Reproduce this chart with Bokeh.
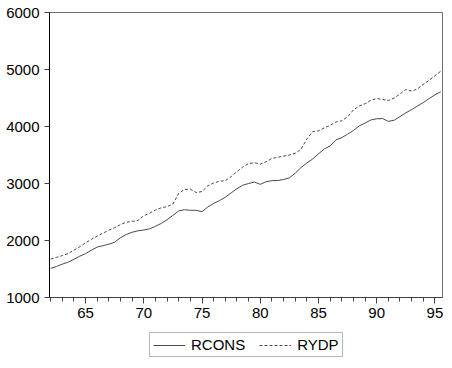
from bokeh.plotting import figure
from bokeh.layouts import column
from bokeh.models import Range1d, SingleIntervalTicker, FixedTicker, Legend, LegendItem
from bokeh.embed import file_html
from bokeh.resources import INLINE

# semi-annual observation dates (year of century)
years = [62.0 + 0.5 * i for i in range(68)]

rcons = [1510, 1545, 1585, 1620, 1670, 1725, 1770, 1830, 1885, 1910,
         1935, 1970, 2050, 2105, 2145, 2170, 2185, 2205, 2250, 2300,
         2365, 2440, 2520, 2540, 2530, 2530, 2505, 2590, 2650, 2700,
         2760, 2835, 2910, 2970, 3000, 3025, 2985, 3030, 3050, 3052,
         3070, 3100, 3180, 3280, 3360, 3430, 3520, 3605, 3660, 3765,
         3805, 3865, 3930, 4010, 4060, 4115, 4135, 4140, 4090, 4110,
         4175, 4240, 4295, 4360, 4420, 4490, 4555, 4610]

rydp = [1675, 1705, 1735, 1770, 1830, 1890, 1960, 2020, 2080, 2130,
        2180, 2225, 2280, 2320, 2335, 2350, 2435, 2480, 2535, 2575,
        2595, 2640, 2830, 2895, 2900, 2840, 2860, 2960, 3010, 3040,
        3050, 3120, 3210, 3290, 3350, 3365, 3340, 3380, 3440, 3460,
        3480, 3500, 3530, 3600, 3780, 3910, 3925, 3975, 4020, 4080,
        4100, 4170, 4290, 4360, 4400, 4460, 4490, 4475, 4455, 4500,
        4570, 4650, 4620, 4660, 4740, 4810, 4890, 4970]

y_ticks = [1000, 2000, 3000, 4000, 5000, 6000]
series_names = ["RCONS", "RYDP"]

FONT = "Liberation Sans"
LINE_COLOR = "#4a4a4a"

p = figure(width=452, height=326, output_backend="svg", toolbar_location=None,
           x_range=Range1d(61.9, 95.65), y_range=Range1d(1000, 6000),
           min_border_left=49, min_border_right=10, min_border_top=12,
           min_border_bottom=29)
p.background_fill_color = "white"
p.border_fill_color = "white"
p.outline_line_color = "#707070"
p.outline_line_width = 1
p.xgrid.visible = False
p.ygrid.visible = False

p.line(years, rcons, line_color=LINE_COLOR, line_width=1)
p.line(years, rydp, line_color=LINE_COLOR, line_width=1, line_dash="3 2")

xa = p.xaxis[0]
xa.ticker = SingleIntervalTicker(interval=5, num_minor_ticks=5)
xa.major_tick_out = 6
xa.major_tick_in = 0
xa.minor_tick_out = 4
xa.minor_tick_in = 0
xa.axis_line_color = "#404040"
xa.major_tick_line_color = "#404040"
xa.minor_tick_line_color = "#404040"
xa.major_label_text_font = FONT
xa.major_label_text_font_size = "15px"
xa.major_label_text_color = "black"
xa.major_label_standoff = 4

ya = p.yaxis[0]
ya.ticker = FixedTicker(ticks=y_ticks)
ya.major_tick_out = 5
ya.major_tick_in = 0
ya.minor_tick_out = 0
ya.minor_tick_in = 0
ya.axis_line_color = "black"
ya.major_tick_line_color = "#404040"
ya.major_label_text_font = FONT
ya.major_label_text_font_size = "15px"
ya.major_label_text_color = "black"
ya.major_label_standoff = 5

# legend strip below the chart (frames are aligned with the chart above)
p2 = figure(width=452, height=42, output_backend="svg", toolbar_location=None,
            x_range=Range1d(0, 1), y_range=Range1d(0, 1),
            x_axis_type=None, y_axis_type=None,
            min_border_left=0, min_border_right=0, min_border_top=0,
            min_border_bottom=0)
p2.outline_line_color = None
p2.xgrid.visible = False
p2.ygrid.visible = False
# placeholder renderers lying outside the visible range, only for legend glyphs
l1 = p2.line(x=[5, 6], y=[5, 6], line_color=LINE_COLOR, line_width=1)
l2 = p2.line(x=[5, 6], y=[5, 6], line_color=LINE_COLOR, line_width=1, line_dash="3 2")

legend = Legend(items=[LegendItem(label=series_names[0], renderers=[l1]),
                       LegendItem(label=series_names[1], renderers=[l2])],
                orientation="horizontal", location=(100, 11))
legend.label_text_font = FONT
legend.label_text_font_size = "15px"
legend.label_text_color = "black"
legend.glyph_width = 32
legend.glyph_height = 14
legend.label_height = 14
legend.label_standoff = 6
legend.spacing = 14
legend.padding = 3
legend.margin = 0
legend.border_line_color = "#707070"
legend.border_line_width = 1
legend.background_fill_alpha = 1
p2.add_layout(legend, "center")

layout = column(p, p2, spacing=0)
open("out.html", "w").write(file_html(layout, INLINE))
